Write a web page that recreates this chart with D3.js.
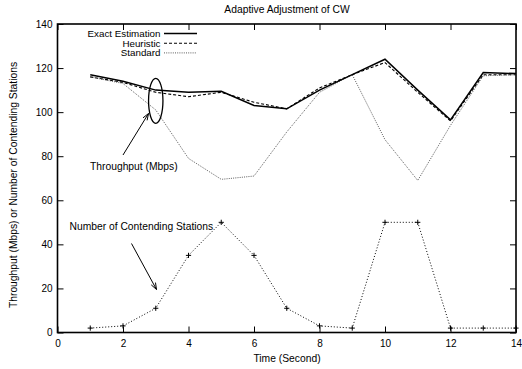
<!DOCTYPE html>
<html>
<head>
<meta charset="utf-8">
<script src="https://cdn.jsdelivr.net/npm/d3@7"></script>
<style>
  html, body { margin: 0; padding: 0; background: #fff; }
  svg text { font-family: "Liberation Sans", Arial, Helvetica, sans-serif; fill: #000; }
</style>
</head>
<body>
<svg id="chart" width="522" height="369"></svg>
<script>
// Time in seconds
const seconds = [1, 2, 3, 4, 5, 6, 7, 8, 9, 10, 11, 12, 13, 14];
// Throughput (Mbps) per CW adjustment scheme
const exactEstimation = [117, 114, 110, 109, 109.5, 103, 101.5, 110, 117, 124, 110, 96.5, 118, 117.5];
const heuristic       = [116, 113.5, 109, 107, 109, 104.5, 101.5, 111, 117, 122.5, 109, 96, 117, 117];
const standard        = [116, 113, 101, 79, 69.5, 71, 91, 109, 117, 87.5, 69, 94, 116.5, 117];
// Number of contending stations
const contending = [2, 3, 11, 35, 50, 35, 11, 3, 2, 50, 50, 2, 2, 2];

const xTicks = [0, 2, 4, 6, 8, 10, 12, 14];
const yTicks = [0, 20, 40, 60, 80, 100, 120, 140];

const svg = d3.select("#chart");
const x = d3.scaleLinear().domain([0, 14]).range([57.5, 516]);
const y = d3.scaleLinear().domain([0, 140]).range([332.5, 24]);

// Axes with inward ticks on all four sides
const tick = 6;
svg.append("g").attr("transform", `translate(0,${y(0)})`)
  .call(d3.axisBottom(x).tickValues(xTicks).tickSizeInner(-tick).tickSizeOuter(0).tickPadding(5))
  .call(g => g.select(".domain").remove())
  .call(g => g.selectAll("text").attr("font-size", 10).attr("dy", "0.9em"));
svg.append("g").attr("transform", `translate(${x(0)},0)`)
  .call(d3.axisLeft(y).tickValues(yTicks).tickSizeInner(-tick).tickSizeOuter(0).tickPadding(5))
  .call(g => g.select(".domain").remove())
  .call(g => g.selectAll("text").attr("font-size", 10));
svg.append("g").attr("transform", `translate(0,${y(140)})`)
  .call(d3.axisTop(x).tickValues(xTicks).tickSizeInner(-tick).tickSizeOuter(0).tickFormat(""))
  .call(g => g.select(".domain").remove());
svg.append("g").attr("transform", `translate(${x(14)},0)`)
  .call(d3.axisRight(y).tickValues(yTicks).tickSizeInner(-tick).tickSizeOuter(0).tickFormat(""))
  .call(g => g.select(".domain").remove());
svg.selectAll(".tick line").attr("stroke", "#000").attr("stroke-width", 1);
svg.selectAll(".tick text").attr("font-family", "Liberation Sans, Arial, sans-serif");

// Plot frame
svg.append("rect")
  .attr("x", x(0)).attr("y", y(140))
  .attr("width", x(14) - x(0)).attr("height", y(0) - y(140))
  .attr("fill", "none").attr("stroke", "#000").attr("stroke-width", 1.6);

// Titles
svg.append("text").attr("x", 287).attr("y", 12.5).attr("text-anchor", "middle")
  .attr("font-size", 10.3).text("Adaptive Adjustment of CW");
svg.append("text").attr("x", 287).attr("y", 362).attr("text-anchor", "middle")
  .attr("font-size", 10.3).text("Time (Second)");
svg.append("text").attr("transform", "translate(17,185) rotate(-90)").attr("text-anchor", "middle")
  .attr("font-size", 10.3).text("Throughput (Mbps) or Number of Contending Stations");

const line = d3.line().x((d, i) => x(seconds[i])).y(d => y(d));

const series = [
  { name: "Exact Estimation", values: exactEstimation, width: 1.5, dash: null, color: "#000" },
  { name: "Heuristic", values: heuristic, width: 1.1, dash: "3,2", color: "#000" },
  { name: "Standard", values: standard, width: 0.8, dash: "1,1.2", color: "#333" }
];

series.forEach(s => {
  svg.append("path").datum(s.values).attr("d", line)
    .attr("fill", "none").attr("stroke", s.color).attr("stroke-width", s.width)
    .attr("stroke-dasharray", s.dash).attr("stroke-linejoin", "miter");
});

// Contending stations: dotted line with plus markers
svg.append("path").datum(contending).attr("d", line)
  .attr("fill", "none").attr("stroke", "#000").attr("stroke-width", 1)
  .attr("stroke-dasharray", "1,2");
svg.append("g").selectAll("path").data(contending).join("path")
  .attr("d", (d, i) => {
    const cx = x(seconds[i]), cy = y(d), r = 2.6;
    return `M${cx - r},${cy}H${cx + r}M${cx},${cy - r}V${cy + r}`;
  })
  .attr("stroke", "#000").attr("stroke-width", 1);

// Legend
const legendY = [33.5, 43.2, 52.9];
series.forEach((s, i) => {
  svg.append("text").attr("x", 160.5).attr("y", legendY[i] + 3.5).attr("text-anchor", "end")
    .attr("font-size", 9.8).text(s.name);
  svg.append("line").attr("x1", 164).attr("x2", 197).attr("y1", legendY[i]).attr("y2", legendY[i])
    .attr("stroke", s.color).attr("stroke-width", s.width).attr("stroke-dasharray", s.dash);
});

// Annotations
svg.append("ellipse").attr("cx", x(3)).attr("cy", 100.8).attr("rx", 7.2).attr("ry", 22.5)
  .attr("fill", "none").attr("stroke", "#000").attr("stroke-width", 1.3);

function arrow(x1, y1, x2, y2) {
  const a = Math.atan2(y2 - y1, x2 - x1), L = 7, w = 0.35;
  svg.append("line").attr("x1", x1).attr("y1", y1).attr("x2", x2).attr("y2", y2)
    .attr("stroke", "#000").attr("stroke-width", 1);
  svg.append("path")
    .attr("d", `M${x2 - L * Math.cos(a - w)},${y2 - L * Math.sin(a - w)}L${x2},${y2}L${x2 - L * Math.cos(a + w)},${y2 - L * Math.sin(a + w)}`)
    .attr("fill", "none").attr("stroke", "#000").attr("stroke-width", 1);
}
arrow(123, 155, 148.5, 113.5);
arrow(131.5, 243.5, 156.5, 289.5);

svg.append("text").attr("x", 90).attr("y", 169.5).attr("font-size", 10.3).text("Throughput (Mbps)");
svg.append("text").attr("x", 69.5).attr("y", 230).attr("font-size", 10.3).text("Number of Contending Stations");
</script>
</body>
</html>
